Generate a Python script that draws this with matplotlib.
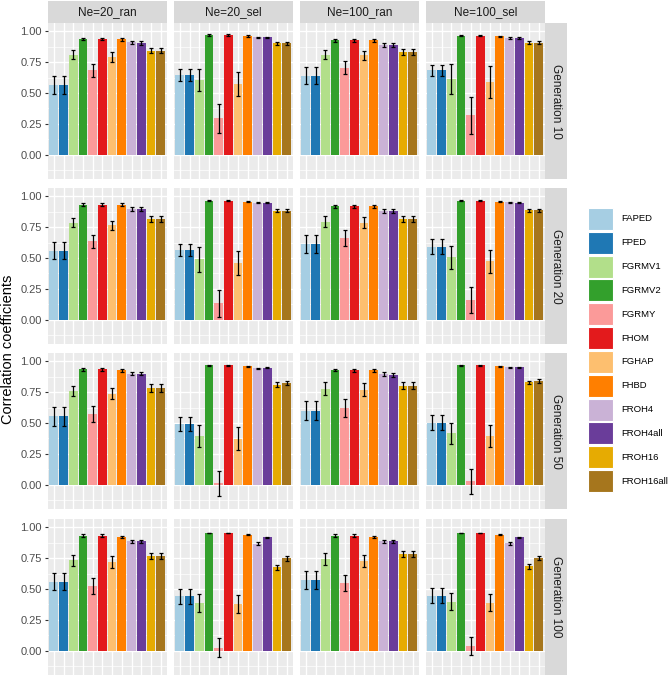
import numpy as np
import matplotlib.pyplot as plt
from matplotlib.patches import Rectangle

plt.rcParams['font.family'] = ['Liberation Sans', 'DejaVu Sans']

measures = ["FAPED", "FPED", "FGRMV1", "FGRMV2", "FGRMY", "FHOM",
            "FGHAP", "FHBD", "FROH4", "FROH4all", "FROH16", "FROH16all"]
scenarios = ["Ne=20_ran", "Ne=20_sel", "Ne=100_ran", "Ne=100_sel"]
generations = ["Generation 10", "Generation 20", "Generation 50", "Generation 100"]
colors = ["#A6CEE3", "#1F78B4", "#B2DF8A", "#33A02C", "#FB9A99", "#E31A1C",
          "#FDBF6F", "#FF7F00", "#CAB2D6", "#6A3D9A", "#E6AB02", "#A6761D"]

# mean correlation per scenario (rows) and measure (columns)
mean_gen10 = [
    [0.563, 0.563, 0.810, 0.936, 0.684, 0.936, 0.790, 0.933, 0.909, 0.906, 0.842, 0.842],
    [0.646, 0.646, 0.603, 0.968, 0.295, 0.968, 0.574, 0.960, 0.949, 0.949, 0.903, 0.903],
    [0.641, 0.641, 0.810, 0.925, 0.705, 0.925, 0.804, 0.925, 0.887, 0.887, 0.831, 0.831],
    [0.684, 0.684, 0.614, 0.962, 0.319, 0.962, 0.587, 0.957, 0.943, 0.941, 0.906, 0.906],
]
err_gen10 = [
    [0.074, 0.074, 0.035, 0.010, 0.052, 0.010, 0.040, 0.012, 0.013, 0.015, 0.020, 0.020],
    [0.048, 0.048, 0.087, 0.005, 0.115, 0.005, 0.095, 0.005, 0.005, 0.005, 0.012, 0.012],
    [0.070, 0.070, 0.037, 0.012, 0.054, 0.012, 0.035, 0.012, 0.015, 0.016, 0.022, 0.022],
    [0.043, 0.043, 0.122, 0.005, 0.150, 0.005, 0.129, 0.006, 0.008, 0.008, 0.012, 0.012],
]
mean_gen20 = [
    [0.560, 0.560, 0.784, 0.931, 0.635, 0.931, 0.765, 0.931, 0.896, 0.896, 0.813, 0.813],
    [0.565, 0.565, 0.488, 0.963, 0.133, 0.963, 0.456, 0.955, 0.947, 0.947, 0.880, 0.880],
    [0.613, 0.613, 0.792, 0.917, 0.661, 0.917, 0.784, 0.917, 0.880, 0.877, 0.813, 0.813],
    [0.592, 0.592, 0.507, 0.963, 0.160, 0.963, 0.472, 0.955, 0.949, 0.947, 0.885, 0.885],
]
err_gen20 = [
    [0.071, 0.071, 0.036, 0.010, 0.053, 0.010, 0.037, 0.010, 0.013, 0.013, 0.022, 0.022],
    [0.051, 0.051, 0.097, 0.004, 0.108, 0.004, 0.097, 0.004, 0.004, 0.004, 0.012, 0.012],
    [0.076, 0.076, 0.043, 0.012, 0.067, 0.012, 0.045, 0.012, 0.015, 0.016, 0.022, 0.022],
    [0.059, 0.059, 0.093, 0.004, 0.107, 0.004, 0.096, 0.004, 0.004, 0.005, 0.010, 0.010],
]
mean_gen50 = [
    [0.555, 0.555, 0.759, 0.933, 0.571, 0.933, 0.737, 0.925, 0.898, 0.898, 0.783, 0.783],
    [0.490, 0.490, 0.394, 0.968, 0.013, 0.968, 0.373, 0.957, 0.941, 0.944, 0.810, 0.825],
    [0.598, 0.598, 0.777, 0.928, 0.619, 0.925, 0.769, 0.925, 0.895, 0.890, 0.802, 0.802],
    [0.501, 0.501, 0.416, 0.968, 0.030, 0.968, 0.394, 0.957, 0.949, 0.949, 0.828, 0.839],
]
err_gen50 = [
    [0.078, 0.078, 0.039, 0.010, 0.066, 0.010, 0.047, 0.010, 0.013, 0.013, 0.030, 0.030],
    [0.056, 0.056, 0.091, 0.004, 0.100, 0.004, 0.092, 0.004, 0.005, 0.004, 0.020, 0.018],
    [0.076, 0.076, 0.050, 0.010, 0.072, 0.010, 0.050, 0.010, 0.013, 0.015, 0.025, 0.025],
    [0.060, 0.060, 0.087, 0.004, 0.100, 0.004, 0.088, 0.004, 0.005, 0.005, 0.015, 0.015],
]
mean_gen100 = [
    [0.560, 0.560, 0.733, 0.931, 0.525, 0.931, 0.717, 0.920, 0.885, 0.885, 0.763, 0.763],
    [0.440, 0.440, 0.387, 0.952, 0.027, 0.952, 0.379, 0.939, 0.867, 0.917, 0.677, 0.747],
    [0.570, 0.570, 0.744, 0.931, 0.549, 0.931, 0.728, 0.920, 0.885, 0.885, 0.779, 0.779],
    [0.445, 0.445, 0.397, 0.952, 0.040, 0.952, 0.389, 0.936, 0.869, 0.917, 0.685, 0.752],
]
err_gen100 = [
    [0.072, 0.072, 0.045, 0.010, 0.066, 0.010, 0.050, 0.010, 0.013, 0.013, 0.024, 0.024],
    [0.057, 0.057, 0.073, 0.004, 0.076, 0.004, 0.075, 0.004, 0.010, 0.005, 0.020, 0.017],
    [0.072, 0.072, 0.048, 0.010, 0.068, 0.010, 0.048, 0.010, 0.013, 0.013, 0.024, 0.024],
    [0.060, 0.060, 0.070, 0.004, 0.076, 0.004, 0.070, 0.004, 0.010, 0.005, 0.020, 0.016],
]
means = [mean_gen10, mean_gen20, mean_gen50, mean_gen100]
errs = [err_gen10, err_gen20, err_gen50, err_gen100]

W, H = 669, 677
fig = plt.figure(figsize=(W / 100, H / 100), dpi=100)

def px_axes(left, top, width, height):
    return fig.add_axes([left / W, 1 - (top + height) / H, width / W, height / H])

x = np.arange(1, len(measures) + 1)
col_left = [48, 174, 300, 426]
row_top = [23, 188, 353, 519]
pw, ph = 118.5, 156

for r, gen in enumerate(generations):
    for c, sc in enumerate(scenarios):
        ax = px_axes(col_left[c], row_top[r], pw, ph)
        ax.set_facecolor("#EBEBEB")
        ax.bar(x, means[r][c], width=0.9, color=colors, zorder=2)
        ax.errorbar(x, means[r][c], yerr=errs[r][c], fmt="none", ecolor="black",
                    elinewidth=0.9, capsize=1.6, capthick=0.9, zorder=3)
        ax.set_xlim(0.4, 12.6)
        ax.set_ylim(-0.194, 1.065)
        ax.set_xticks(x)
        ax.set_yticks([0, 0.25, 0.5, 0.75, 1.0])
        ax.set_yticks([-0.125, 0.125, 0.375, 0.625, 0.875], minor=True)
        ax.grid(which="major", color="white", linewidth=1.0, zorder=0)
        ax.grid(which="minor", axis="y", color="white", linewidth=0.5, zorder=0)
        ax.set_axisbelow(True)
        for s in ax.spines.values():
            s.set_visible(False)
        ax.tick_params(axis="x", length=0, labelbottom=False)
        ax.tick_params(axis="y", which="minor", length=0)
        if c == 0:
            ax.set_yticklabels(["0.00", "0.25", "0.50", "0.75", "1.00"])
            ax.tick_params(axis="y", length=2.5, width=0.8, color="#333333",
                           labelsize=8, labelcolor="#4D4D4D", pad=2)
        else:
            ax.tick_params(axis="y", length=0, labelleft=False)
        if r == 0:
            st = px_axes(col_left[c], 1, pw, 22)
            st.set_facecolor("#D9D9D9")
            st.set_xticks([]); st.set_yticks([])
            for s in st.spines.values():
                s.set_visible(False)
            st.text(0.5, 0.5, sc, ha="center", va="center", fontsize=8.5,
                    color="#1A1A1A", transform=st.transAxes)
        if c == 3:
            st = px_axes(545, row_top[r], 22, ph)
            st.set_facecolor("#D9D9D9")
            st.set_xticks([]); st.set_yticks([])
            for s in st.spines.values():
                s.set_visible(False)
            st.text(0.5, 0.5, gen, ha="center", va="center", fontsize=8.5,
                    color="#1A1A1A", rotation=-90, transform=st.transAxes)

fig.text(8 / W, 1 - 349 / H, "Correlation coefficients", rotation=90,
         ha="center", va="center", fontsize=10.5, color="black")

# legend
lg = px_axes(586, 207, 80, 286)
lg.set_xlim(0, 80)
lg.set_ylim(len(measures), 0)
lg.axis("off")
for i, (m, col) in enumerate(zip(measures, colors)):
    lg.add_patch(Rectangle((1.5, i + 0.04), 25, 0.92, facecolor=col,
                           edgecolor="white", linewidth=0.8))
    lg.text(35, i + 0.5, m, va="center", ha="left", fontsize=6.8, color="black")

fig.savefig("out.png", dpi=100)
